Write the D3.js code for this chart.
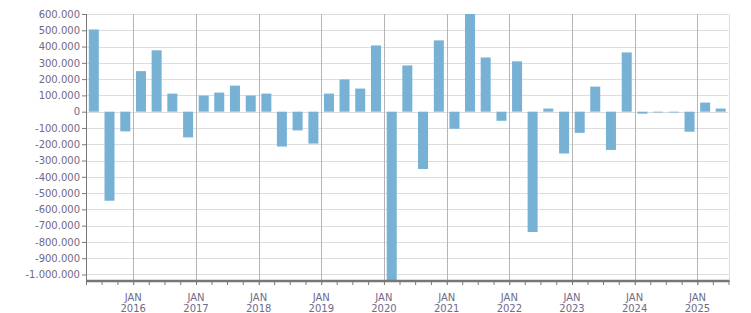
<!DOCTYPE html>
<html>
<head>
<meta charset="utf-8">
<script src="https://cdn.jsdelivr.net/npm/d3@7"></script>
<style>
  body { margin: 0; background: #fff; }
  text { font-family: "DejaVu Sans", Verdana, sans-serif; font-size: 10px; fill: #6f6a86; }
</style>
</head>
<body>
<script>
// quarter start months, Q2 2015 .. Q2 2025
var quarters = ["2015-04", "2015-07", "2015-10",
  "2016-01", "2016-04", "2016-07", "2016-10",
  "2017-01", "2017-04", "2017-07", "2017-10",
  "2018-01", "2018-04", "2018-07", "2018-10",
  "2019-01", "2019-04", "2019-07", "2019-10",
  "2020-01", "2020-04", "2020-07", "2020-10",
  "2021-01", "2021-04", "2021-07", "2021-10",
  "2022-01", "2022-04", "2022-07", "2022-10",
  "2023-01", "2023-04", "2023-07", "2023-10",
  "2024-01", "2024-04", "2024-07", "2024-10",
  "2025-01", "2025-04"];

var values = [505000, -547000, -121000,
  249000, 377000, 111000, -158000,
  99000, 117000, 160000, 99000,
  111000, -214000, -115000, -196000,
  111000, 198000, 142000, 407000,
  -1100000, 284000, -352000, 438000,
  -105000, 610000, 333000, -56000,
  309000, -739000, 19000, -257000,
  -130000, 154000, -235000, 364000,
  -12000, -5000, -5000, -123000,
  56000, 19000];

var yTicks = [600000, 500000, 400000, 300000, 200000, 100000, 0,
  -100000, -200000, -300000, -400000, -500000, -600000, -700000,
  -800000, -900000, -1000000];

var years = [2016, 2017, 2018, 2019, 2020, 2021, 2022, 2023, 2024, 2025];

var width = 751, height = 313;
var plotLeft = 86, plotRight = 728.5, plotTop = 14, plotBottom = 281;

var parse = d3.timeParse("%Y-%m");
var data = quarters.map(function(q, i) {
  var d0 = parse(q);
  return {start: d0, end: d3.timeMonth.offset(d0, 3), value: values[i]};
});

var locale = d3.formatLocale({decimal: ",", thousands: ".", grouping: [3], currency: ["", ""], minus: "-"});
var fmt = locale.format(",");

var x = d3.scaleTime()
  .domain([parse("2015-04"), parse("2025-07")])
  .range([plotLeft, plotRight]);

var y = d3.scaleLinear()
  .domain([-1040000, 600000])
  .range([plotBottom, plotTop]);

var svg = d3.select("body").append("svg")
  .attr("width", width)
  .attr("height", height);

svg.append("defs").append("clipPath").attr("id", "plot")
  .append("rect")
  .attr("x", plotLeft).attr("y", plotTop)
  .attr("width", plotRight - plotLeft).attr("height", plotBottom - plotTop);

// horizontal grid
svg.append("g")
  .selectAll("line")
  .data(yTicks)
  .enter().append("line")
  .attr("x1", plotLeft).attr("x2", plotRight)
  .attr("y1", function(d) { return Math.round(y(d)) + 0.5; })
  .attr("y2", function(d) { return Math.round(y(d)) + 0.5; })
  .attr("stroke", "#dddddd");

// right border
svg.append("line")
  .attr("x1", Math.round(plotRight) + 0.5).attr("x2", Math.round(plotRight) + 0.5)
  .attr("y1", plotTop).attr("y2", plotBottom)
  .attr("stroke", "#dddddd");

// year lines
var yearDates = years.map(function(yr) { return new Date(yr, 0, 1); });
svg.append("g")
  .selectAll("line")
  .data(yearDates)
  .enter().append("line")
  .attr("x1", function(d) { return Math.round(x(d)) + 0.5; })
  .attr("x2", function(d) { return Math.round(x(d)) + 0.5; })
  .attr("y1", plotTop).attr("y2", plotBottom + 4)
  .attr("stroke", "#b5b5b5");

// bars
svg.append("g")
  .attr("clip-path", "url(#plot)")
  .selectAll("rect")
  .data(data)
  .enter().append("rect")
  .attr("x", function(d) { return (x(d.start) + x(d.end)) / 2 - 5; })
  .attr("width", 10)
  .attr("y", function(d) { return y(Math.max(0, d.value)); })
  .attr("height", function(d) { return Math.abs(y(d.value) - y(0)); })
  .attr("fill", "#77b1d4");

// y axis
var yAxis = svg.append("g")
  .attr("transform", "translate(" + plotLeft + ",0)")
  .call(d3.axisLeft(y).tickValues(yTicks).tickFormat(fmt).tickSize(4).tickPadding(2));
yAxis.select(".domain").attr("stroke", "#7a7a7a").attr("d", "M0.5," + plotTop + "V" + plotBottom);
yAxis.selectAll(".tick line").attr("stroke", "#7a7a7a");
yAxis.selectAll("text").attr("fill", "#6f6a86").style("font-size", "10px")
  .style("font-family", "'DejaVu Sans', Verdana, sans-serif");

// x axis: quarter ticks
var xAxis = svg.append("g")
  .attr("transform", "translate(0," + plotBottom + ")")
  .call(d3.axisBottom(x).ticks(d3.timeMonth.every(3)).tickSize(4).tickFormat(""));
xAxis.select(".domain").remove();
xAxis.selectAll(".tick line").attr("stroke", "#7a7a7a");

svg.append("line")
  .attr("x1", plotLeft).attr("x2", plotRight + 1)
  .attr("y1", plotBottom).attr("y2", plotBottom)
  .attr("stroke", "#777777").attr("stroke-width", 2.5);

// year labels
var lab = svg.append("g")
  .selectAll("text")
  .data(yearDates)
  .enter().append("text")
  .attr("text-anchor", "middle")
  .attr("x", function(d) { return x(d); });
lab.append("tspan").attr("x", function(d) { return x(d); }).attr("y", 301).text("JAN");
lab.append("tspan").attr("x", function(d) { return x(d); }).attr("y", 312).text(function(d) { return d.getFullYear(); });
</script>
</body>
</html>
